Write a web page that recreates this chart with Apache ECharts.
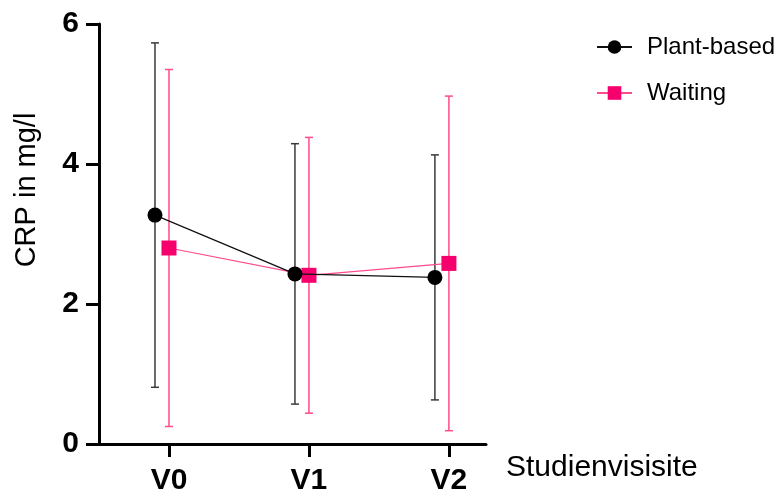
<!DOCTYPE html>
<html>
<head>
<meta charset="utf-8">
<script src="https://cdn.jsdelivr.net/npm/echarts@6/dist/echarts.min.js"></script>
<style>html,body{margin:0;padding:0;background:#fff}#c{width:784px;height:490px}</style>
</head>
<body>
<div id="c"></div>
<script>
var categories = ['V0', 'V1', 'V2'];
var plantMean = [3.27, 2.43, 2.38];
var plantSD = [2.46, 1.86, 1.75];
var waitMean = [2.80, 2.41, 2.58];
var waitSD = [2.55, 1.97, 2.39];
var yTicks = [0, 2, 4, 6];

var FONT = '"Liberation Sans", Arial, sans-serif';
var BLACK = '#000000';
var PINK = '#F5006D';
var PINK_LINE = '#FF4A8D';
var OFFSET = -0.1;

function pts(mean, off) {
  return mean.map(function (m, i) { return [i + off, m]; });
}
function errData(mean, sd, off) {
  return mean.map(function (m, i) { return [i + off, m - sd[i], m + sd[i]]; });
}
function errRender(color) {
  return function (params, api) {
    var x = api.value(0);
    var lo = api.coord([x, api.value(1)]);
    var hi = api.coord([x, api.value(2)]);
    var w = 4;
    var st = { stroke: color, lineWidth: 1.5 };
    return {
      type: 'group',
      children: [
        { type: 'line', shape: { x1: lo[0], y1: lo[1], x2: hi[0], y2: hi[1] }, style: st },
        { type: 'line', shape: { x1: lo[0] - w, y1: lo[1], x2: lo[0] + w, y2: lo[1] }, style: st },
        { type: 'line', shape: { x1: hi[0] - w, y1: hi[1], x2: hi[0] + w, y2: hi[1] }, style: st }
      ]
    };
  };
}

var chart = echarts.init(document.getElementById('c'), null, { renderer: 'canvas' });
chart.setOption({
  animation: false,
  backgroundColor: '#fff',
  textStyle: { fontFamily: FONT },
  grid: { left: 99, right: 298, top: 24, bottom: 46, containLabel: false, outerBoundsMode: 'none' },
  legend: {
    data: ['Plant-based', 'Waiting'],
    orient: 'vertical',
    left: 591,
    top: 30,
    itemWidth: 35,
    itemHeight: 17,
    itemGap: 22,
    textStyle: { fontFamily: FONT, fontSize: 24, color: '#000', padding: [0, 0, 0, 10] }
  },
  xAxis: {
    type: 'value',
    min: -0.5,
    max: 2.265,
    splitLine: { show: false },
    axisLine: { show: true, onZero: false, lineStyle: { color: '#000', width: 3 } },
    axisTick: { show: true, customValues: [0, 1, 2], length: 13, lineStyle: { color: '#000', width: 3 } },
    axisLabel: {
      customValues: [0, 1, 2],
      formatter: function (v) { return categories[Math.round(v)]; },
      fontFamily: FONT, fontSize: 30, fontWeight: 'bold', color: '#000', margin: 22
    }
  },
  yAxis: {
    type: 'value',
    min: 0,
    max: 6,
    interval: 2,
    splitLine: { show: false },
    axisLine: { show: true, onZero: false, lineStyle: { color: '#000', width: 3 } },
    axisTick: { show: true, length: 13, lineStyle: { color: '#000', width: 3 } },
    axisLabel: {
      customValues: yTicks,
      fontFamily: FONT, fontSize: 30, fontWeight: 'bold', color: '#000', margin: 20
    }
  },
  graphic: [
    {
      type: 'text', x: 27, y: 190, rotation: Math.PI / 2,
      style: { text: 'CRP in mg/l', font: '29px ' + FONT, fill: '#000', align: 'center', verticalAlign: 'middle' }
    },
    {
      type: 'text', x: 506, y: 468,
      style: { text: 'Studienvisisite', font: '30px ' + FONT, fill: '#000', align: 'left', verticalAlign: 'middle' }
    }
  ],
  series: [
    {
      name: 'Plant-based SD', type: 'custom', z: 1,
      renderItem: errRender('#3a3a3a'),
      data: errData(plantMean, plantSD, OFFSET),
      encode: { x: 0, y: [1, 2] }
    },
    {
      name: 'Waiting SD', type: 'custom', z: 1,
      renderItem: errRender(PINK_LINE),
      data: errData(waitMean, waitSD, 0),
      encode: { x: 0, y: [1, 2] }
    },
    {
      name: 'Plant-based', type: 'line', z: 3,
      data: pts(plantMean, OFFSET),
      symbol: 'circle', symbolSize: 15,
      itemStyle: { color: BLACK },
      lineStyle: { color: '#111', width: 1.2 }
    },
    {
      name: 'Waiting', type: 'line', z: 2,
      data: pts(waitMean, 0),
      symbol: 'rect', symbolSize: 15,
      itemStyle: { color: PINK },
      lineStyle: { color: PINK_LINE, width: 1.2 }
    }
  ]
});
</script>
</body>
</html>
